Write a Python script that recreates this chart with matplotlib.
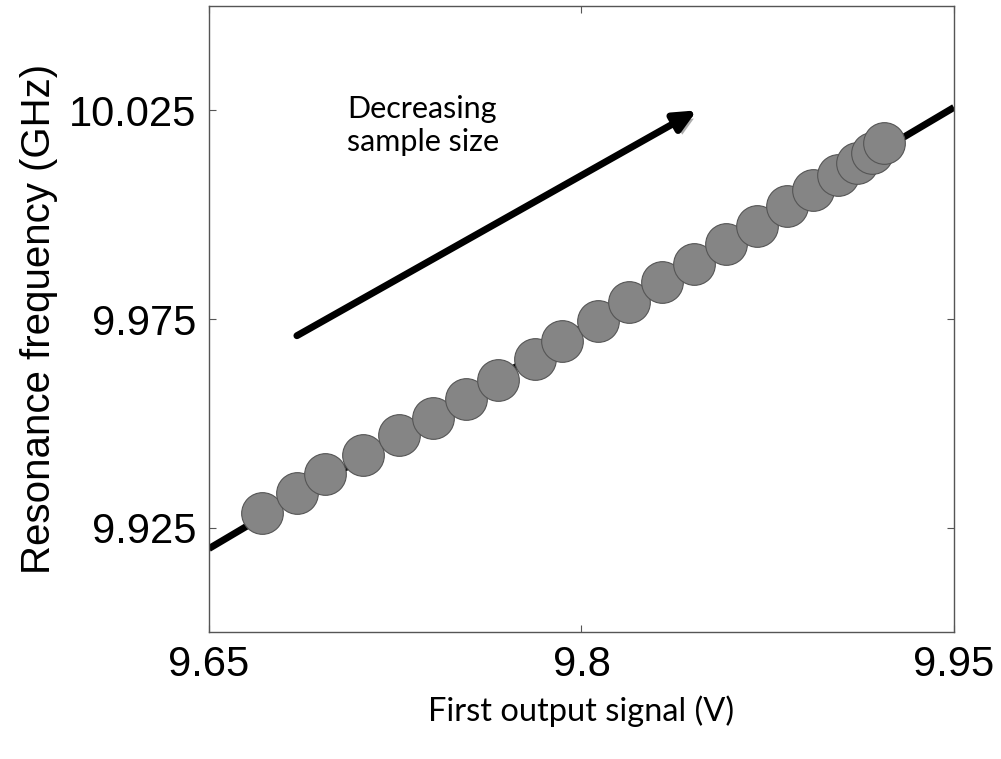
# resonance frequency vs first output signal
import numpy as np
import matplotlib.pyplot as plt
import matplotlib.patheffects as pe

sig_v = [9.6713, 9.6854, 9.6967, 9.7120, 9.7265, 9.7402, 9.7535, 9.7664,
         9.7813, 9.7922, 9.8067, 9.8191, 9.8324, 9.8453, 9.8582, 9.8707,
         9.8828, 9.8933, 9.9033, 9.9110, 9.9170, 9.9218]
freq_ghz = [9.9286, 9.9334, 9.9379, 9.9423, 9.9471, 9.9514, 9.9559, 9.9605,
            9.9655, 9.9698, 9.9746, 9.9790, 9.9838, 9.9883, 9.9929, 9.9974,
            10.0020, 10.0058, 10.0094, 10.0125, 10.0147, 10.0171]

# linear fit endpoints
fit_x = [9.65, 9.95]
fit_y = [9.9200, 10.0257]

# annotation arrow
arrow_start = (9.6854, 9.9710)
arrow_end = (9.8465, 10.0250)

xticks = [9.65, 9.8, 9.95]
xtick_labels = ["9.65", "9.8", "9.95"]
yticks = [9.925, 9.975, 10.025]
ytick_labels = ["9.925", "9.975", "10.025"]

fig = plt.figure(figsize=(10.01, 7.59), dpi=100)
ax = fig.add_axes([0.2088, 0.1673, 0.7442, 0.8248])

ax.plot(fit_x, fit_y, color="black", lw=5, solid_capstyle="butt", zorder=2)
ax.plot(sig_v, freq_ghz, "o", ms=30, mfc="#858585", mec="#555555", mew=0.8,
        zorder=3)

ax.annotate("", xy=arrow_end, xytext=arrow_start,
            arrowprops=dict(arrowstyle="-|>,head_length=1.3,head_width=0.6",
                            color="black", lw=5, shrinkA=0, shrinkB=0,
                            path_effects=[pe.SimplePatchShadow(offset=(3, -3),
                                                               shadow_rgbFace="#999999",
                                                               alpha=0.8),
                                          pe.Normal()]))
ax.text(9.7056, 10.0214, "Decreasing\nsample size", fontsize=22,
        family="Lato", ha="left", va="center", linespacing=1.2)

ax.set_xlim(9.65, 9.95)
ax.set_ylim(9.90, 10.05)
ax.set_xticks(xticks, xtick_labels)
ax.set_yticks(yticks, ytick_labels)
ax.tick_params(direction="in", length=5, width=0.8, color="#555555",
               top=True, right=True, labelsize=30, pad=9)
for lab in ax.get_xticklabels() + ax.get_yticklabels():
    lab.set_family("Liberation Sans")
for sp in ax.spines.values():
    sp.set_linestyle((0, (1.5, 1)))
    sp.set_color("#555555")
    sp.set_linewidth(1)

ax.set_xlabel("First output signal (V)", fontsize=23.5, family="Lato", labelpad=8)
ax.set_ylabel("Resonance frequency (GHz)", fontsize=29, family="Liberation Sans",
              labelpad=8)

fig.savefig("out.png", dpi=100)
